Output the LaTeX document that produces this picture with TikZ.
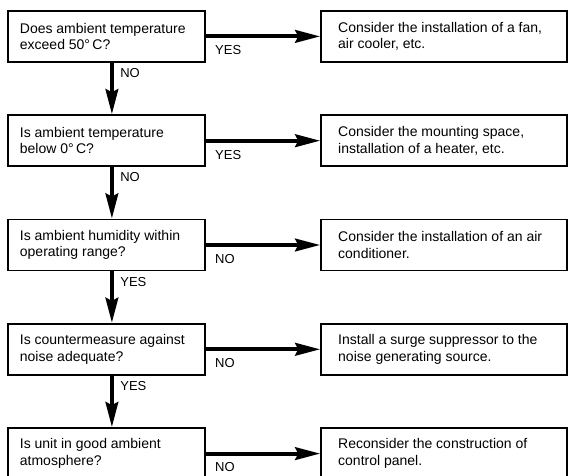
\documentclass[tikz,border=0pt]{standalone}
\usepackage{fontspec}
\setmainfont{Liberation Sans}
\usetikzlibrary{arrows.meta, positioning}

\begin{document}
\begin{tikzpicture}[node distance=51.5pt and 114.5pt, font=\fontsize{14}{16.5}\selectfont]
        \tikzstyle{question} = [rectangle, minimum width=197pt, minimum height=51pt, text width=173pt, inner xsep=12pt, align=flush left, draw=black, line width=1.8pt]
        \tikzstyle{action} = [rectangle, minimum width=246pt, minimum height=51pt, text width=212pt, inner xsep=17pt, align=flush left, draw=black, line width=1.8pt]
        \tikzstyle{arrow} = [line width=4.2pt, -{Stealth[length=25pt, width=12.5pt, inset=3pt]}]
        \tikzstyle{answer} = [font=\fontsize{13}{15}\selectfont]

        \useasboundingbox (0,0) rectangle (576pt,-476pt);

        \node (hot) [question, anchor=north west] at (7pt,-10pt) {Does ambient temperature\\exceed 50°\,C?};
        \node (cold) [question, below=of hot] {Is ambient temperature\\below 0°\,C?};
        \node (humid) [question, below=of cold] {Is ambient humidity within\\operating range?};
        \node (noise) [question, below=of humid] {Is countermeasure against\\noise adequate?};
        \node (atmos) [question, below=of noise] {Is unit in good ambient\\atmosphere?};

        \node (fan) [action, right=of hot] {Consider the installation of a fan,\\air cooler, etc.};
        \node (heater) [action, right=of cold] {Consider the mounting space,\\installation of a heater, etc.};
        \node (aircon) [action, right=of humid] {Consider the installation of an air\\conditioner.};
        \node (surge) [action, right=of noise] {Install a surge suppressor to the\\noise generating source.};
        \node (panel) [action, right=of atmos] {Reconsider the construction of\\control panel.};

        \draw [arrow] (hot.east) -- node[answer, pos=0, anchor=west, xshift=4pt, yshift=-14pt] {YES} (fan.west);
        \draw [arrow] (cold.east) -- node[answer, pos=0, anchor=west, xshift=4pt, yshift=-14pt] {YES} (heater.west);
        \draw [arrow] (humid.east) -- node[answer, pos=0, anchor=west, xshift=4pt, yshift=-14pt] {NO} (aircon.west);
        \draw [arrow] (noise.east) -- node[answer, pos=0, anchor=west, xshift=4pt, yshift=-14pt] {NO} (surge.west);
        \draw [arrow] (atmos.east) -- node[answer, pos=0, anchor=west, xshift=4pt, yshift=-13pt] {NO} (panel.west);

        \draw [arrow] ([xshift=5.5pt]hot.south) -- node[answer, pos=0.2, right=3pt] {NO} ([xshift=5.5pt]cold.north);
        \draw [arrow] ([xshift=5.5pt]cold.south) -- node[answer, pos=0.2, right=3pt] {NO} ([xshift=5.5pt]humid.north);
        \draw [arrow] ([xshift=5.5pt]humid.south) -- node[answer, pos=0.2, right=3pt] {YES} ([xshift=5.5pt]noise.north);
        \draw [arrow] ([xshift=5.5pt]noise.south) -- node[answer, pos=0.2, right=3pt] {YES} ([xshift=5.5pt]atmos.north);
    \end{tikzpicture}
\end{document}
